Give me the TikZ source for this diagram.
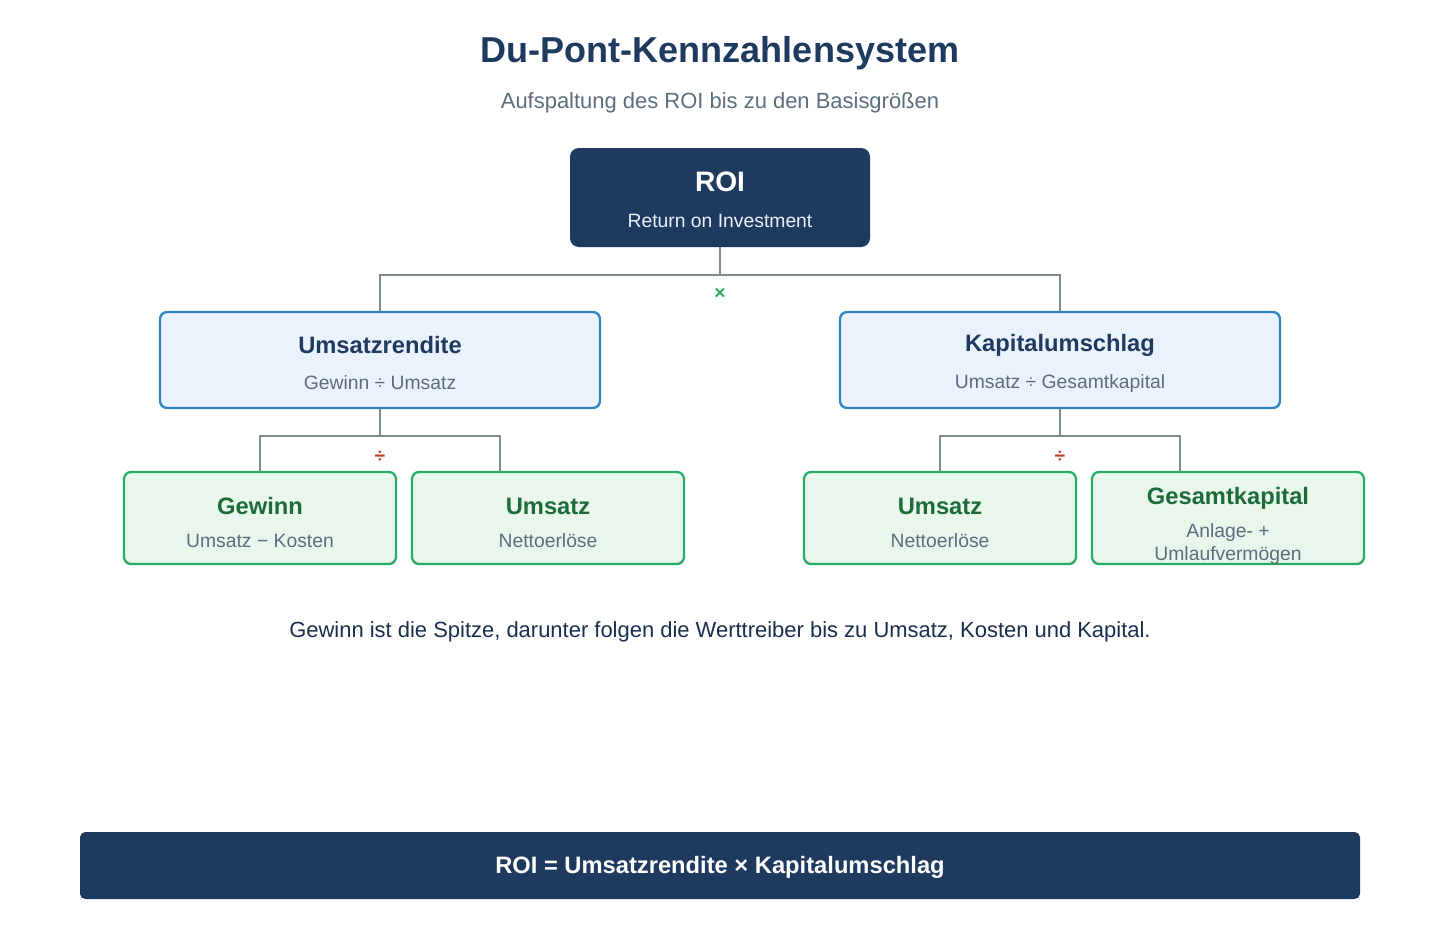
\documentclass[tikz,border=0pt]{standalone}
\usepackage{fontspec}
\setmainfont{Liberation Sans}
\begin{document}
\begin{tikzpicture}[x=0.02cm,y=-0.02cm,
 navy/.style={fill=c1,draw=none,rounded corners=5pt},
 bl/.style={fill=c3,draw=c2,line width=1.3pt,rounded corners=4pt},
 gr/.style={fill=c5,draw=c4,line width=1.3pt,rounded corners=4pt},
 ln/.style={draw=c6,line width=1.5pt},
 t/.style={font=\fontsize{13.5}{16}\selectfont\bfseries},
 s/.style={font=\fontsize{11}{13}\selectfont,text=c7}]
\definecolor{c1}{HTML}{1F3A5F}\definecolor{c2}{HTML}{2E86C1}\definecolor{c3}{HTML}{EAF2FB}
\definecolor{c4}{HTML}{27AE60}\definecolor{c5}{HTML}{E9F6EC}\definecolor{c6}{HTML}{7F8C8D}
\definecolor{c7}{HTML}{5D6D7E}\definecolor{c8}{HTML}{1E6B3A}\definecolor{c9}{HTML}{C0392B}
\useasboundingbox (0,0) rectangle (1440,940);
\node[font=\fontsize{20.5}{24}\selectfont\bfseries,text=c1] (title) at (720,53) {Du-Pont-Kennzahlensystem};
\node[font=\fontsize{12.5}{15}\selectfont,text=c7] (sub) at (720,103) {Aufspaltung des ROI bis zu den Basisgrößen};
% connectors
\draw[ln] (720,247) -- (720,275);
\draw[ln] (380,312) -- (380,275) -- (1060,275) -- (1060,312);
\draw[ln] (380,408) -- (380,436);
\draw[ln] (260,472) -- (260,436) -- (500,436) -- (500,472);
\draw[ln] (1060,408) -- (1060,436);
\draw[ln] (940,472) -- (940,436) -- (1180,436) -- (1180,472);
\node[text=c4,font=\fontsize{11}{13}\selectfont\bfseries] (x) at (720,294) {×};
\node[text=c9,font=\fontsize{11}{13}\selectfont\bfseries] (d1) at (380,457) {÷};
\node[text=c9,font=\fontsize{11}{13}\selectfont\bfseries] (d2) at (1060,457) {÷};
% boxes
\draw[navy] (570,148) rectangle (870,247);
\node[t,text=white,font=\fontsize{16}{19}\selectfont\bfseries] (roi) at (720,182) {ROI};
\node[s,text=c3] (roit) at (720,221) {Return on Investment};
\draw[bl] (160,312) rectangle (600,408);
\node[t,text=c1] (u) at (380,345) {Umsatzrendite};
\node[s] (ut) at (380,383) {Gewinn ÷ Umsatz};
\draw[bl] (840,312) rectangle (1280,408);
\node[t,text=c1] (k) at (1060,345) {Kapitalumschlag};
\node[s] (kt) at (1060,383) {Umsatz ÷ Gesamtkapital};
\foreach \a/\b/\n/\c/\nm in {124/396/Gewinn/{Umsatz − Kosten}/g1,412/684/Umsatz/Nettoerlöse/g2,804/1076/Umsatz/Nettoerlöse/g3}{
 \draw[gr] (\a,472) rectangle (\b,564);
 \node[t,text=c8] (\nm) at ({(\a+\b)/2},506) {\n};
 \node[s] (\nm t) at ({(\a+\b)/2},541) {\c};}
\draw[gr] (1092,472) rectangle (1364,564);
\node[t,text=c8] (g4) at (1228,498) {Gesamtkapital};
\node[s] (g4a) at (1228,532) {Anlage- +};
\node[s] (g4b) at (1228,555) {Umlaufvermögen};
\node[font=\fontsize{12.5}{15}\selectfont,text=c1!80!black] (cap) at (720,632) {Gewinn ist die Spitze, darunter folgen die Werttreiber bis zu Umsatz, Kosten und Kapital.};
\draw[navy,rounded corners=3pt] (80,832) rectangle (1360,899);
\node[t,text=white] (f) at (720,867) {ROI = Umsatzrendite × Kapitalumschlag};
\end{tikzpicture}
\end{document}
